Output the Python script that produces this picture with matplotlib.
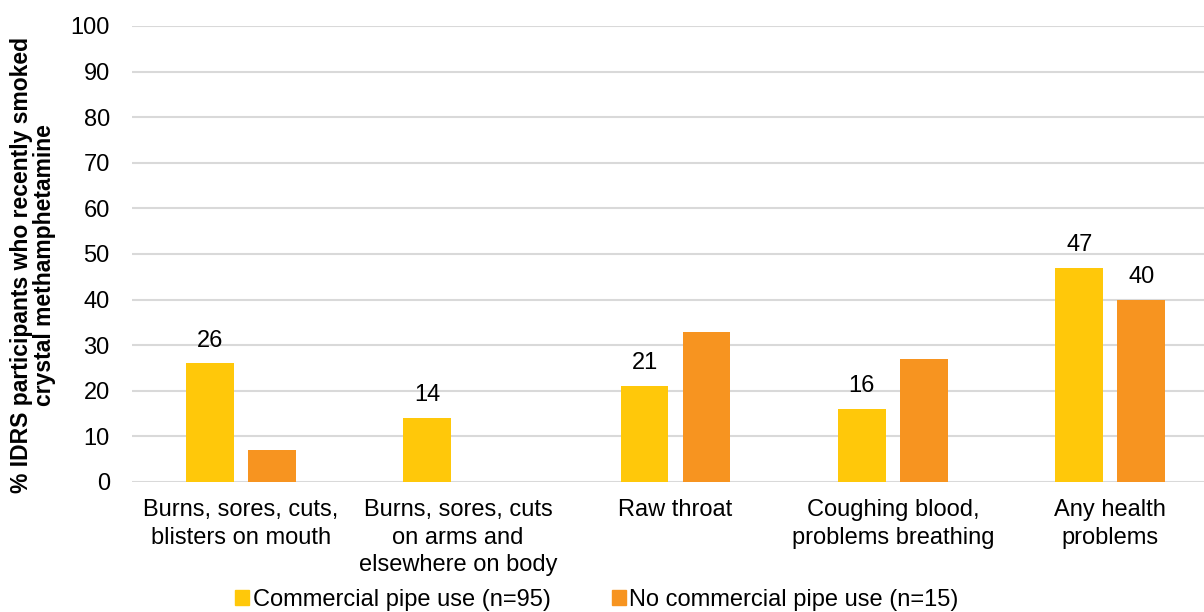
import matplotlib
matplotlib.use("Agg")
import matplotlib.pyplot as plt
import numpy as np
from matplotlib.patches import Patch

plt.rcParams['font.family'] = ['Liberation Sans', 'DejaVu Sans']

categories = ["Burns, sores, cuts,\nblisters on mouth",
              "Burns, sores, cuts\non arms and\nelsewhere on body",
              "Raw throat",
              "Coughing blood,\nproblems breathing",
              "Any health\nproblems"]
commercial = [26, 14, 21, 16, 47]
no_commercial = [7, 0, 33, 27, 40]
commercial_labels = ["26", "14", "21", "16", "47"]
no_commercial_labels = ["", "", "", "", "40"]
series_names = ["Commercial pipe use (n=95)", "No commercial pipe use (n=15)"]
yticks = [0, 10, 20, 30, 40, 50, 60, 70, 80, 90, 100]

c1 = "#FFC80A"
c2 = "#F79420"
FS = 17

fig = plt.figure(figsize=(12.04, 6.12), dpi=100)
ax = fig.add_axes([132/1204, 130/612, (1219-132)/1204, 456/612])

x = np.arange(len(categories))
w = 0.22
off = 0.1425
b1 = ax.bar(x - off, commercial, w, color=c1, zorder=3)
b2 = ax.bar(x + off, no_commercial, w, color=c2, zorder=3)

for bars, labels in ((b1, commercial_labels), (b2, no_commercial_labels)):
    for rect, lab in zip(bars, labels):
        if lab:
            ax.annotate(lab, (rect.get_x() + rect.get_width()/2, rect.get_height()),
                        xytext=(0, 8.5), textcoords="offset points", ha="center", va="bottom",
                        fontsize=FS, color="black")

ax.set_xlim(-0.5, len(categories) - 0.5)
ax.set_ylim(0, 100)
ax.set_yticks(yticks)
ax.set_yticklabels([str(t) for t in yticks], fontsize=FS)
ax.set_xticks(x)
ax.set_xticklabels(categories, fontsize=FS, va="top", linespacing=1.32)
ax.tick_params(axis="y", length=0, pad=16)
ax.tick_params(axis="x", length=0, pad=12.5)
ax.yaxis.grid(True, color="#D9D9D9", linewidth=1.5, zorder=0)
for s in ["top", "right", "left", "bottom"]:
    ax.spines[s].set_visible(False)

fig.text(33/1204, 1 - 265/612, "% IDRS participants who recently smoked\ncrystal methamphetamine",
         rotation=90, ha="center", va="center", fontsize=16.5, fontweight="bold", linespacing=1.05)

handles = [Patch(color=c1), Patch(color=c2)]
fig.legend(handles, series_names, loc="center", bbox_to_anchor=(597/1204, 1 - 600/612),
           ncol=2, frameon=False, fontsize=FS, handlelength=0.6, handleheight=0.6,
           handletextpad=0.15, columnspacing=2.57, borderpad=0)

fig.savefig("out.png", dpi=100)
